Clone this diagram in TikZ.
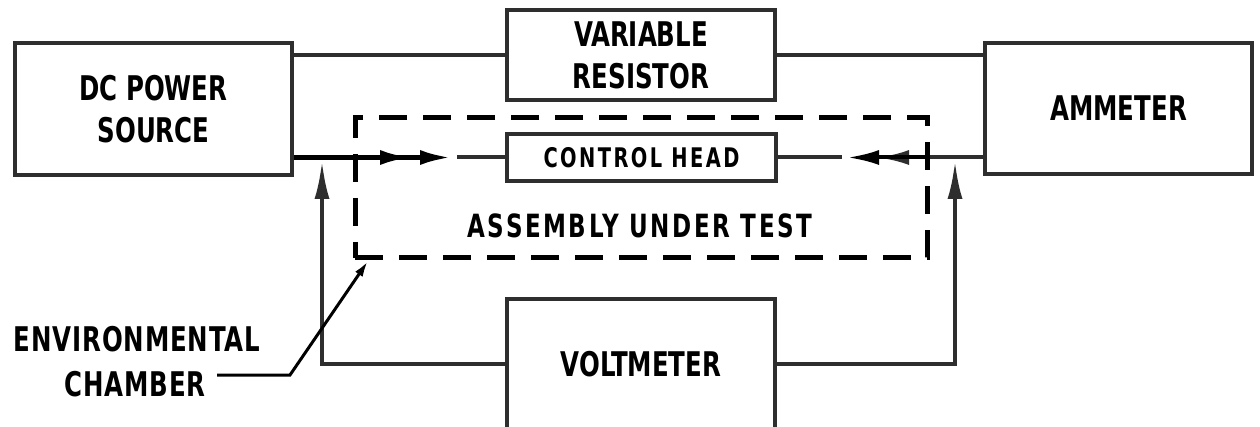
\documentclass[tikz,border=0pt]{standalone}
\usepackage{fontspec}
\setmainfont{DejaVu Sans Condensed}[BoldFont={DejaVu Sans Condensed Bold},FakeStretch=0.8]
\usetikzlibrary{arrows.meta}
\definecolor{ink}{gray}{0.18}
\tikzset{
  blk/.style={draw=ink, line width=4pt, inner sep=0pt, align=center, text=black},
  wire/.style={draw=ink, line width=4pt},
  bigtxt/.style={font=\bfseries\fontsize{34}{42}\selectfont},
  midtxt/.style={font=\bfseries\fontsize{27}{30}\selectfont\addfontfeature{LetterSpace=9}},
  tipH/.style={-{Latex[length=32pt,width=15pt]}},
  tipV/.style={-{Latex[length=38pt,width=15pt]}},
  chamber/.style={draw=black, line width=5pt, dash pattern=on 28pt off 16pt, inner sep=0pt},
  calltxt/.style={font=\bfseries\fontsize{34}{38}\selectfont\addfontfeature{LetterSpace=2.5}},
}
\begin{document}
\begin{tikzpicture}[x=1pt,y=-1pt]
\useasboundingbox (0,0) rectangle (1260,427);
\fill[white] (0,0) rectangle (1260,427);

% equipment blocks
\node[blk, bigtxt, minimum width=277pt, minimum height=132pt] (dc) at (153.5,109) {DC POWER\\SOURCE};
\node[blk, bigtxt, minimum width=268pt, minimum height=90pt] (vr) at (641,55) {VARIABLE\\RESISTOR};
\node[blk, bigtxt, minimum width=267pt, minimum height=131pt] (am) at (1118.5,108.5) {AMMETER};
\node[blk, midtxt, minimum width=269pt, minimum height=47pt] (ch) at (641.5,157.5) {CONTROL HEAD};
\node[blk, bigtxt, minimum width=268pt, minimum height=130pt] (vm) at (641,364) {VOLTMETER};

% environmental chamber around the assembly under test
\node[chamber, minimum width=572pt, minimum height=140pt] (aut) at (641,188) {};
\node[font=\bfseries\fontsize{32}{36}\selectfont\addfontfeature{LetterSpace=8}] (autlbl) at (640,226) {ASSEMBLY UNDER TEST};

% series loop: source - resistor - ammeter
\draw[wire] (dc.east |- vr.west) -- (vr.west);
\draw[wire] (vr.east) -- (vr.east -| am.west);

% leads into the control head
\coordinate (lt1) at (412,157.5);
\coordinate (lt2) at (452,157.5);
\coordinate (lg) at (457,157.5);
\draw[wire, draw=black, line width=5pt, tipH] (dc.east |- ch.west) -- (lt1);
\draw[wire, draw=black, line width=5pt, tipH] (dc.east |- ch.west) -- (lt2);
\draw[wire] (lg) -- (ch.west);

\coordinate (rt1) at (847,157.5);
\coordinate (rt2) at (877,157.5);
\coordinate (rg) at (842,157.5);
\draw[wire, tipH] (am.west |- ch.east) -- (rt2);
\draw[wire, draw=black, tipH] (aut.east |- ch.east) -- (rt1);
\draw[wire] (rg) -- (ch.east);

% voltmeter leads
\coordinate (lup) at (322,161);
\coordinate (rup) at (955,161);
\draw[wire, tipV] (vm.west) -| (lup);
\draw[wire, tipV] (vm.east) -| (rup);

% chamber callout
\node[calltxt] (env1) at (137,339) {ENVIRONMENTAL};
\node[calltxt] (env2) at (135,384) {CHAMBER};
\coordinate (bend) at (290,375);
\coordinate (ctip) at (368,261);
\draw[draw=black, line width=3pt, -{Latex[length=16pt,width=9pt]}] (env2.east |- bend) ++(8,0) -- (bend) -- (ctip);
\end{tikzpicture}
\end{document}
